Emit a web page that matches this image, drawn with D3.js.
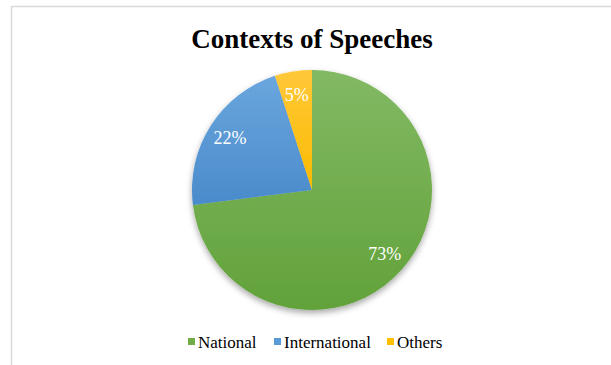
<!DOCTYPE html>
<html>
<head>
<meta charset="utf-8">
<script src="https://cdn.jsdelivr.net/npm/d3@7"></script>
<style>
  body { margin: 0; background: #fff; }
  text { font-family: "Liberation Serif", "Times New Roman", serif; }
</style>
</head>
<body>
<div class="chart"></div>
<script>
var svgWidth = 611;
var svgHeight = 365;

// chart data
var categories = ["National", "International", "Others"];
var shares = [73, 22, 5];
var colors = ["#70ad47", "#5b9bd5", "#ffc000"];
var colorsLight = ["#82b964", "#6aa6de", "#ffc83a"];
var colorsDark = ["#62a23a", "#4a8bcb", "#fbbb00"];

var cx = 312, cy = 190, radius = 120;

var svg = d3.select(".chart")
  .append("svg")
  .attr("width", svgWidth)
  .attr("height", svgHeight);

var defs = svg.append("defs");

defs.append("filter")
  .attr("id", "shadow")
  .attr("x", "-20%").attr("y", "-20%")
  .attr("width", "140%").attr("height", "140%")
  .append("feDropShadow")
  .attr("dx", 0).attr("dy", 3)
  .attr("stdDeviation", 3)
  .attr("flood-color", "#000")
  .attr("flood-opacity", 0.35);

categories.forEach(function(c, i) {
  var g = defs.append("linearGradient")
    .attr("id", "grad" + i)
    .attr("x1", 0).attr("y1", 0).attr("x2", 0).attr("y2", 1);
  g.append("stop").attr("offset", "0%").attr("stop-color", colorsLight[i]);
  g.append("stop").attr("offset", "100%").attr("stop-color", colorsDark[i]);
});

// chart frame (cut off at right and bottom)
svg.append("rect")
  .attr("x", 11.5).attr("y", 6.5)
  .attr("width", 700).attr("height", 400)
  .attr("fill", "none")
  .attr("stroke", "#d9d9d9")
  .attr("stroke-width", 1.5);

svg.append("text")
  .attr("x", 312)
  .attr("y", 48)
  .attr("text-anchor", "middle")
  .attr("font-size", "27px")
  .attr("font-weight", "bold")
  .attr("fill", "#000")
  .text("Contexts of Speeches");

var data = categories.map(function(c, i) {
  return { name: c, value: shares[i], idx: i };
});

var pie = d3.pie()
  .sort(null)
  .value(function(d) { return d.value; });

var arc = d3.arc().innerRadius(0).outerRadius(radius);
var labelArc = d3.arc().innerRadius(97).outerRadius(97);

var chart = svg.append("g")
  .attr("transform", "translate(" + cx + "," + cy + ")");

var slices = chart.append("g").attr("filter", "url(#shadow)");

slices.selectAll("path")
  .data(pie(data))
  .enter().append("path")
    .attr("d", arc)
    .attr("fill", function(d) { return "url(#grad" + d.data.idx + ")"; });

chart.selectAll(".lbl")
  .data(pie(data))
  .enter().append("text")
    .attr("class", "lbl")
    .attr("transform", function(d) { return "translate(" + labelArc.centroid(d) + ")"; })
    .attr("dy", "0.35em")
    .attr("text-anchor", "middle")
    .attr("font-size", "18px")
    .attr("fill", "#fff")
    .text(function(d) { return d.data.value + "%"; });

// legend
var legendX = [188, 274, 387];
var legend = svg.append("g");
var item = legend.selectAll("g")
  .data(data)
  .enter().append("g")
    .attr("transform", function(d, i) { return "translate(" + legendX[i] + ",342)"; });

item.append("rect")
  .attr("x", 0).attr("y", -4)
  .attr("width", 7).attr("height", 7)
  .attr("fill", function(d) { return colors[d.idx]; });

item.append("text")
  .attr("x", 10)
  .attr("y", 0)
  .attr("dy", "0.35em")
  .attr("font-size", "17px")
  .attr("fill", "#000")
  .text(function(d) { return d.name; });
</script>
</body>
</html>
